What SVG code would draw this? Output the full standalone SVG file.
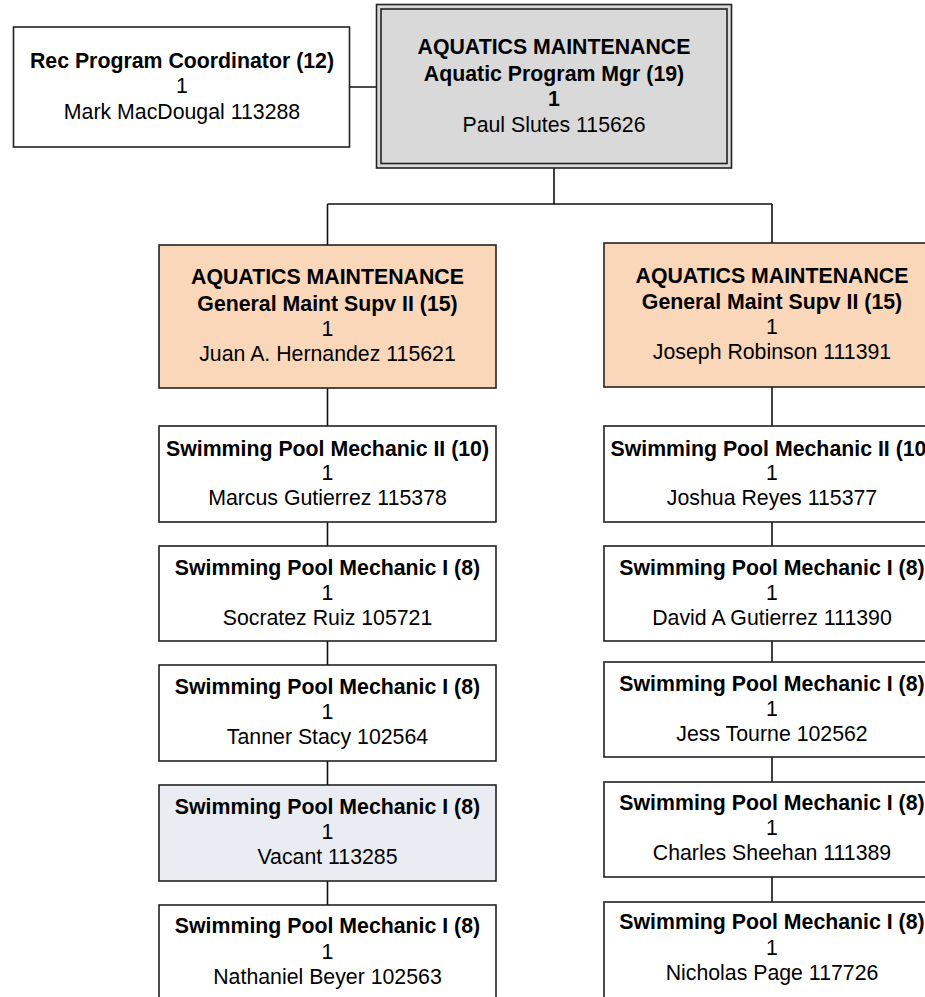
<svg xmlns="http://www.w3.org/2000/svg" width="925" height="997" viewBox="0 0 925 997">
<style>
text{font-family:"Liberation Sans",Arial,sans-serif;font-size:21.3px;fill:#000;text-anchor:middle}
.b{font-weight:bold}
.box{stroke:#222;stroke-width:1.6}
.w{fill:#fff}
.g{fill:#d9d9d9}
.o{fill:#fad7b9}
.v{fill:#e9edf3}
.c{stroke:#111;stroke-width:1.6;fill:none}
</style>
<rect width="925" height="997" fill="#fff"/>
<g id="connectors">
<path class="c" d="M350 87H377M554 168V204M327.5 204H772M327.5 204V245M772 204V243"/>
<path class="c" d="M327.5 388V426M327.5 522V546M327.5 641V665M327.5 761V785M327.5 881V905"/>
<path class="c" d="M772 387V426M772 522V546M772 641V662M772 757V782M772 877V902"/>
</g>
<g id="rec">
<rect class="box w" x="13.5" y="27" width="336" height="120"/>
<text x="182" y="68" class="b">Rec Program Coordinator (12)</text>
<text x="182" y="93">1</text>
<text x="182" y="119">Mark MacDougal 113288</text>
</g>
<g id="mgr">
<rect class="box g" x="376.5" y="4.5" width="355" height="163.5"/>
<rect class="box" fill="none" x="381" y="9" width="346" height="154.5"/>
<text x="554" y="54" class="b">AQUATICS MAINTENANCE</text>
<text x="554" y="81" class="b">Aquatic Program Mgr (19)</text>
<text x="554" y="106" class="b">1</text>
<text x="554" y="132">Paul Slutes 115626</text>
</g>
<g id="supv1">
<rect class="box o" x="159" y="245" width="337" height="143"/>
<text x="327.5" y="284" class="b">AQUATICS MAINTENANCE</text>
<text x="327.5" y="311" class="b">General Maint Supv II (15)</text>
<text x="327.5" y="336">1</text>
<text x="327.5" y="361">Juan A. Hernandez 115621</text>
</g>
<g id="supv2">
<rect class="box o" x="604" y="243" width="336" height="144"/>
<text x="772" y="283" class="b">AQUATICS MAINTENANCE</text>
<text x="772" y="309" class="b">General Maint Supv II (15)</text>
<text x="772" y="334">1</text>
<text x="772" y="359">Joseph Robinson 111391</text>
</g>
<g id="l1">
<rect class="box w" x="159" y="426" width="337" height="96"/>
<text x="327.5" y="456" class="b">Swimming Pool Mechanic II (10)</text>
<text x="327.5" y="480">1</text>
<text x="327.5" y="505">Marcus Gutierrez  115378</text>
</g>
<g id="l2">
<rect class="box w" x="159" y="546" width="337" height="95"/>
<text x="327.5" y="575" class="b">Swimming Pool Mechanic I (8)</text>
<text x="327.5" y="600">1</text>
<text x="327.5" y="625">Socratez Ruiz 105721</text>
</g>
<g id="l3">
<rect class="box w" x="159" y="665" width="337" height="96"/>
<text x="327.5" y="694" class="b">Swimming Pool Mechanic I (8)</text>
<text x="327.5" y="719">1</text>
<text x="327.5" y="744">Tanner Stacy 102564</text>
</g>
<g id="l4">
<rect class="box v" x="159" y="785" width="337" height="96"/>
<text x="327.5" y="813.5" class="b">Swimming Pool Mechanic I (8)</text>
<text x="327.5" y="839">1</text>
<text x="327.5" y="864">Vacant 113285</text>
</g>
<g id="l5">
<rect class="box w" x="159" y="905" width="337" height="110"/>
<text x="327.5" y="933" class="b">Swimming Pool Mechanic I (8)</text>
<text x="327.5" y="958.5">1</text>
<text x="327.5" y="983.5">Nathaniel Beyer 102563</text>
</g>
<g id="r1">
<rect class="box w" x="604" y="426" width="336" height="96"/>
<text x="772" y="456" class="b">Swimming Pool Mechanic II (10)</text>
<text x="772" y="480">1</text>
<text x="772" y="505">Joshua Reyes 115377</text>
</g>
<g id="r2">
<rect class="box w" x="604" y="546" width="336" height="95"/>
<text x="772" y="575" class="b">Swimming Pool Mechanic I (8)</text>
<text x="772" y="600">1</text>
<text x="772" y="625">David A Gutierrez 111390</text>
</g>
<g id="r3">
<rect class="box w" x="604" y="662" width="336" height="95"/>
<text x="772" y="691" class="b">Swimming Pool Mechanic I (8)</text>
<text x="772" y="716">1</text>
<text x="772" y="741">Jess Tourne 102562</text>
</g>
<g id="r4">
<rect class="box w" x="604" y="782" width="336" height="95"/>
<text x="772" y="810" class="b">Swimming Pool Mechanic I (8)</text>
<text x="772" y="835">1</text>
<text x="772" y="860">Charles Sheehan 111389</text>
</g>
<g id="r5">
<rect class="box w" x="604" y="902" width="336" height="110"/>
<text x="772" y="929" class="b">Swimming Pool Mechanic I (8)</text>
<text x="772" y="955">1</text>
<text x="772" y="980">Nicholas Page 117726</text>
</g>
</svg>
